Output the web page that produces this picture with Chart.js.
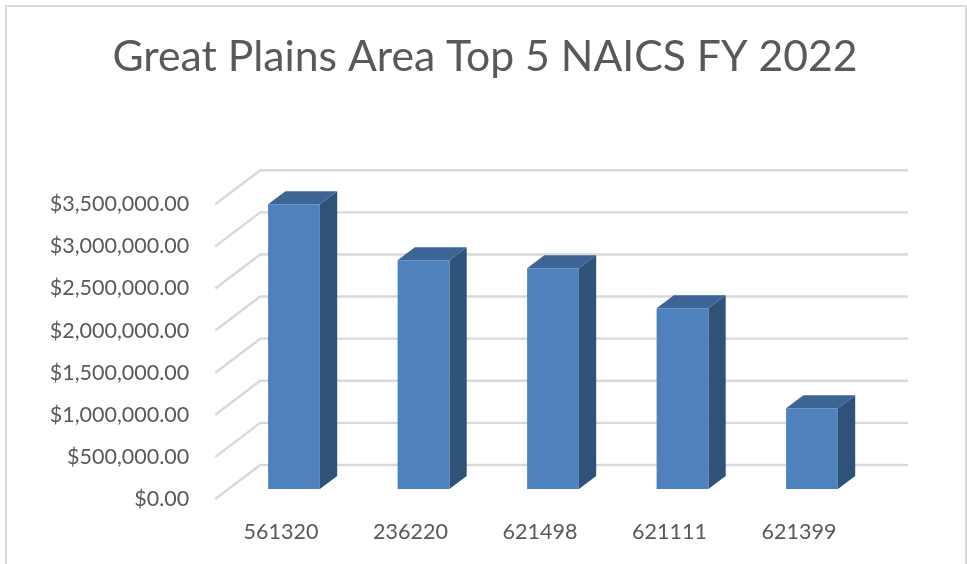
<!DOCTYPE html>
<html>
<head>
<meta charset="utf-8">
<title>Great Plains Area Top 5 NAICS FY 2022</title>
<script src="https://cdn.jsdelivr.net/npm/chart.js@4/dist/chart.umd.min.js"></script>
<style>
  html, body { margin: 0; background: #fff; overflow: hidden; }
  #wrap { position: relative; width: 967px; height: 564px; }
  #frame { position: absolute; left: 5px; top: 5px; width: 958px; height: 580px; border: 2px solid #d9d9d9; }
  #myChart { position: absolute; left: 0; top: 0; }
</style>
</head>
<body>
<div id="wrap">
  <div id="frame"></div>
  <canvas id="myChart" width="967" height="564"></canvas>
</div>
<script>
const categories = ['561320', '236220', '621498', '621111', '621399'];
const amounts = [3380000, 2716000, 2620000, 2147000, 960000];

const textColor = '#595959';
const gridColor = '#d9d9d9';

// fake 3D: bar depth, and how far the walls sit from the bar plane
const barDepth = { x: 17.3, y: 13 };
const backWall = { x: 31, y: 24 };
const frontEdge = { x: 14, y: 10 };

const wallsPlugin = {
  id: 'walls',
  beforeDatasetsDraw(chart) {
    const { ctx, chartArea, scales: { y } } = chart;
    ctx.save();
    ctx.strokeStyle = gridColor;
    ctx.lineWidth = 2.4;
    y.ticks.forEach(t => {
      const py = y.getPixelForValue(t.value);
      ctx.beginPath();
      ctx.moveTo(chartArea.left - frontEdge.x, py + frontEdge.y);
      ctx.lineTo(chartArea.left + backWall.x, py - backWall.y);
      ctx.lineTo(chartArea.right + backWall.x, py - backWall.y);
      ctx.stroke();
    });

    // side and top faces of each bar
    chart.getDatasetMeta(0).data.forEach(bar => {
      const half = bar.width / 2;
      const l = bar.x - half, r = bar.x + half;
      ctx.fillStyle = '#2f5279';
      ctx.beginPath();
      ctx.moveTo(r, bar.y);
      ctx.lineTo(r + barDepth.x, bar.y - barDepth.y);
      ctx.lineTo(r + barDepth.x, bar.base - barDepth.y);
      ctx.lineTo(r, bar.base);
      ctx.closePath();
      ctx.fill();
      ctx.fillStyle = '#3c6494';
      ctx.beginPath();
      ctx.moveTo(l, bar.y);
      ctx.lineTo(l + barDepth.x, bar.y - barDepth.y);
      ctx.lineTo(r + barDepth.x, bar.y - barDepth.y);
      ctx.lineTo(r, bar.y);
      ctx.closePath();
      ctx.fill();
    });
    ctx.restore();
  }
};

const myChart = new Chart(document.getElementById('myChart'), {
  type: 'bar',
  data: {
    labels: categories,
    datasets: [{
      data: amounts,
      backgroundColor: '#4f81bd',
      borderWidth: 0,
      barPercentage: 0.4,
      categoryPercentage: 1
    }]
  },
  plugins: [wallsPlugin],
  options: {
    responsive: false,
    animation: false,
    layout: { padding: { left: 3, bottom: 21 } },
    plugins: {
      legend: { display: false },
      tooltip: { enabled: false },
      title: {
        display: true,
        text: 'Great Plains Area Top 5 NAICS FY 2022',
        color: textColor,
        font: { family: 'Lato', size: 42.7, weight: 'normal', lineHeight: 1.2 },
        padding: { top: 32, bottom: 111 }
      }
    },
    scales: {
      x: {
        afterFit(scale) { scale.height = 54; },
        grid: { display: false, drawTicks: false },
        border: { display: false },
        ticks: { color: textColor, padding: 30, labelOffset: -13, font: { family: 'Lato', size: 21.5 } }
      },
      y: {
        min: 0,
        max: 3500000,
        afterFit(scale) { scale.width = 226.25; },
        grid: { display: false, drawTicks: false },
        border: { display: false },
        ticks: {
          stepSize: 500000,
          color: textColor,
          padding: 40,
          labelOffset: 10,
          font: { family: 'Lato', size: 21.5 },
          callback: v => '$' + v.toLocaleString('en-US', { minimumFractionDigits: 2, maximumFractionDigits: 2 })
        }
      },
      // empty axis, only keeps room right of the plot for the back wall
      spacer: {
        position: 'right',
        afterFit(scale) { scale.width = 90.25; },
        grid: { display: false, drawTicks: false },
        border: { display: false },
        ticks: { display: false }
      }
    }
  }
});
</script>
</body>
</html>
